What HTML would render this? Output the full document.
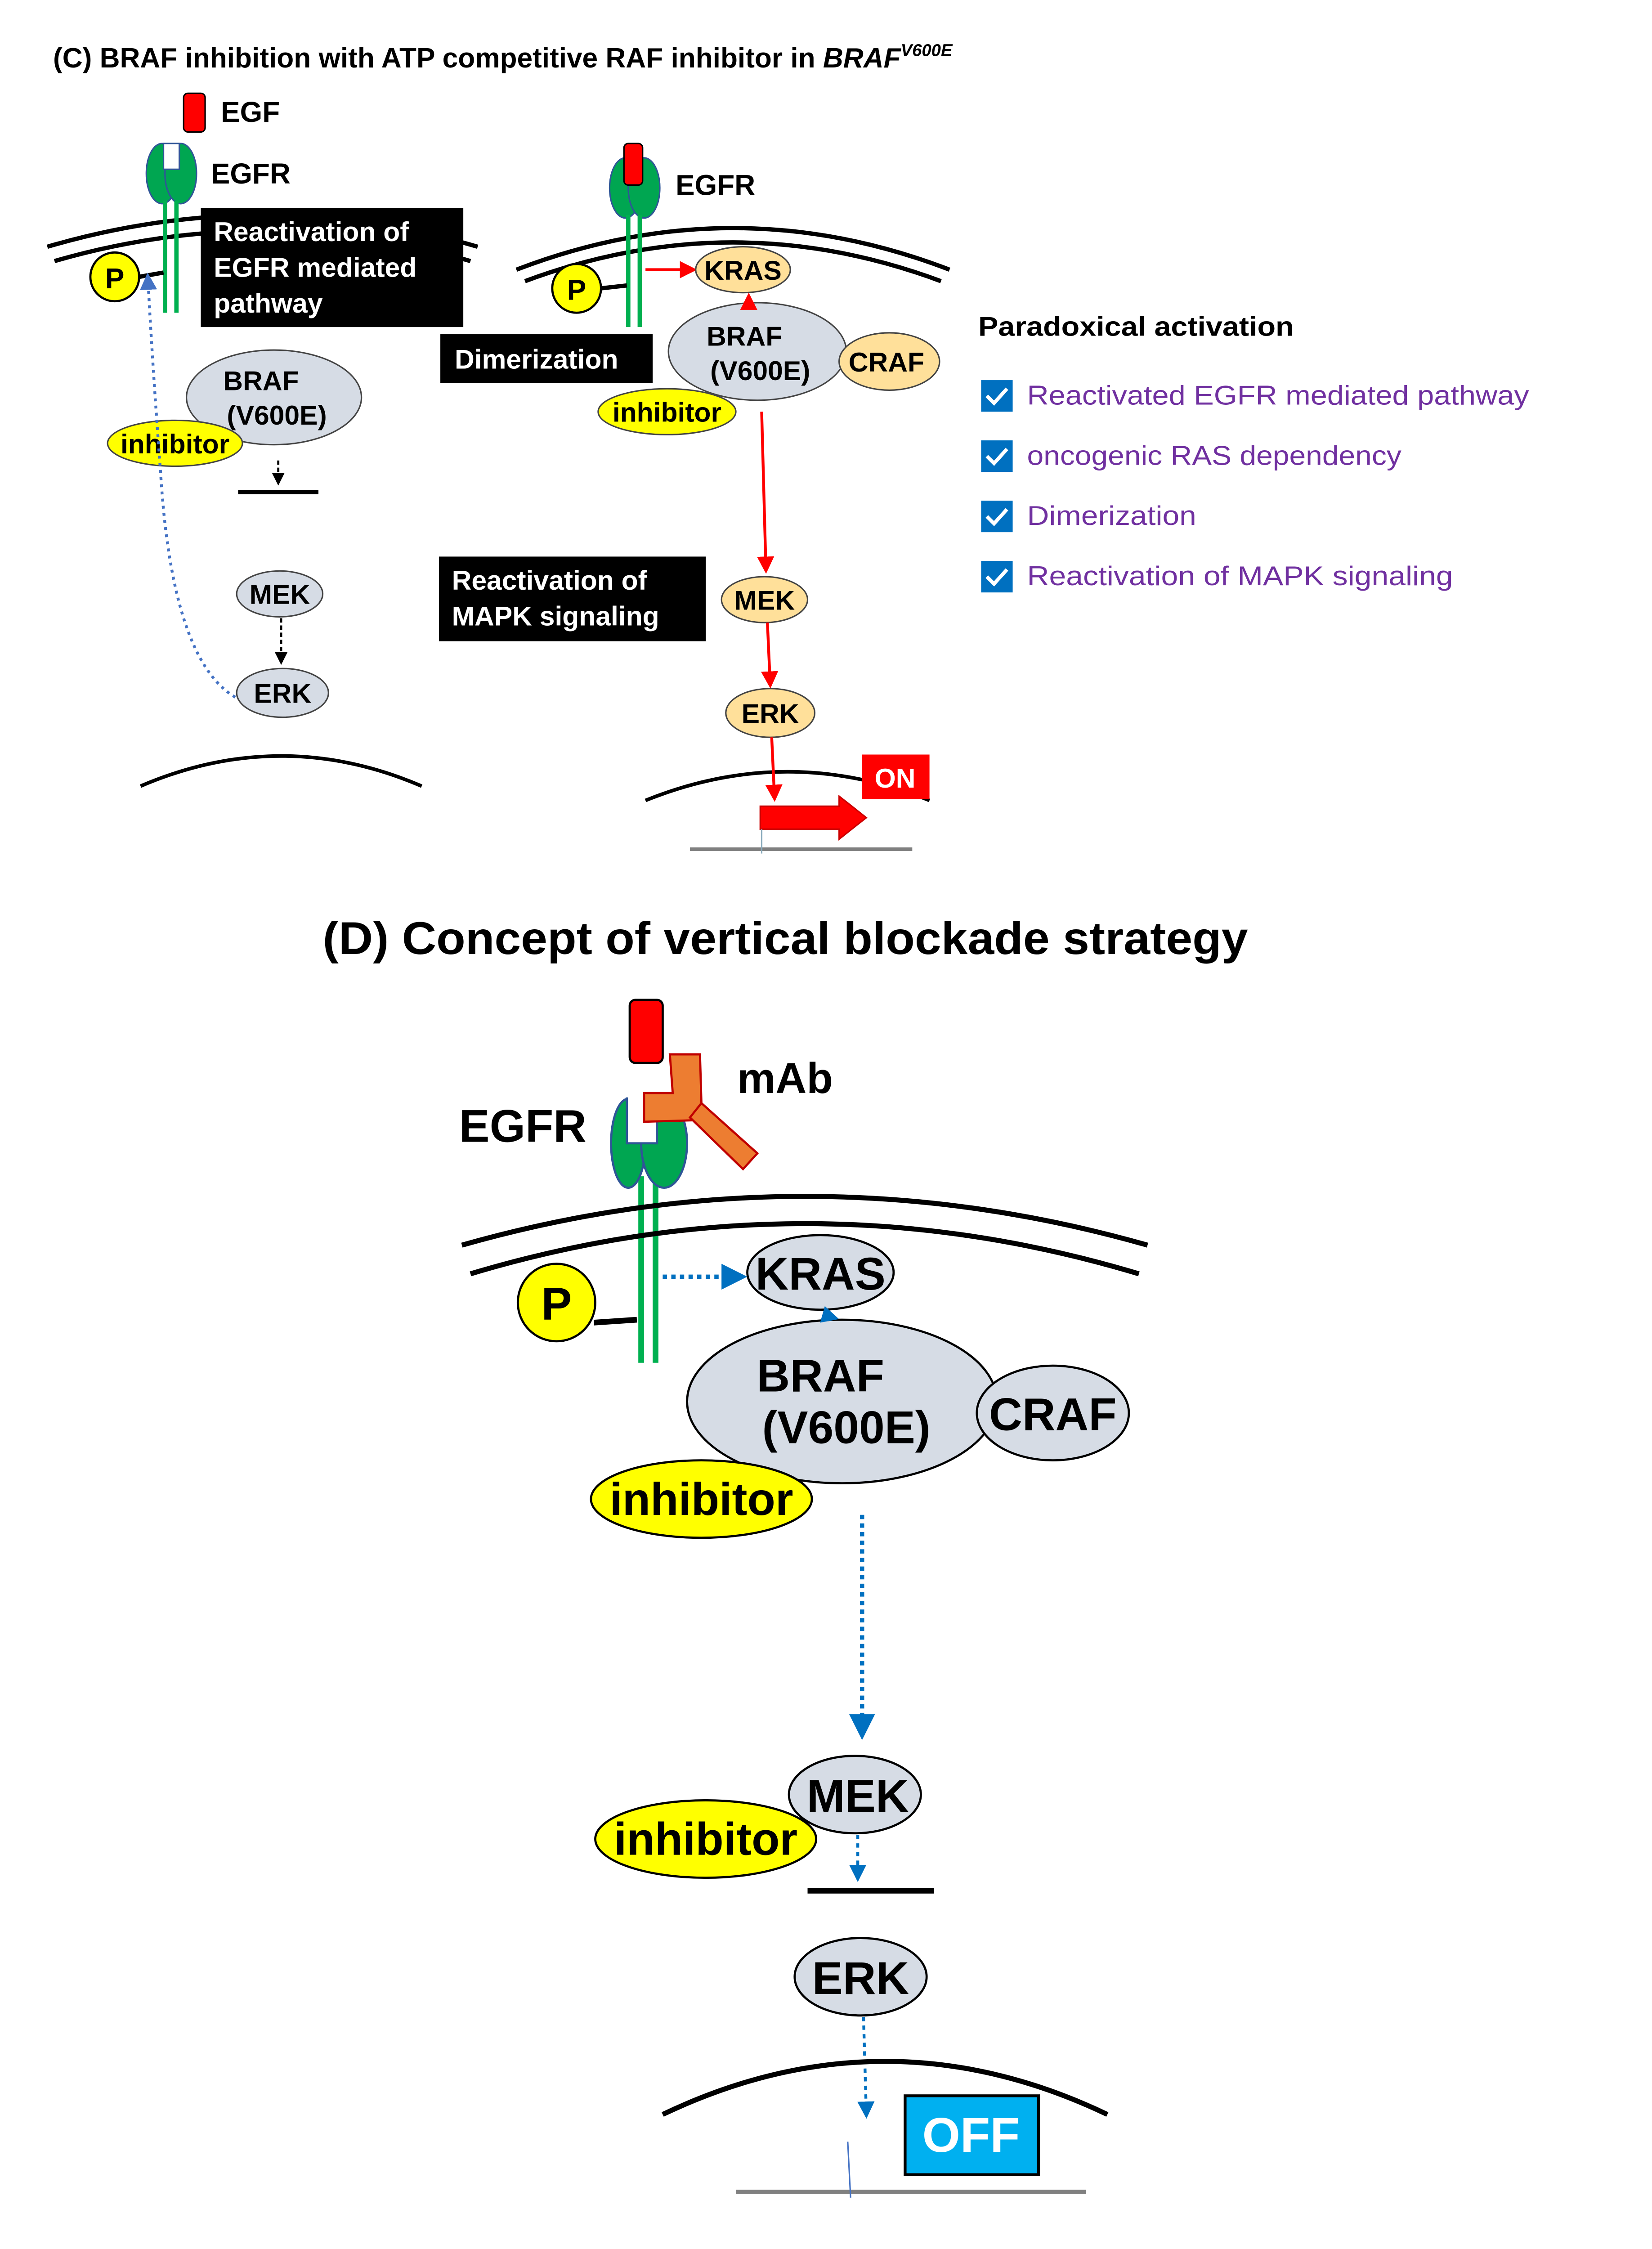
<!DOCTYPE html>
<html><head><meta charset="utf-8"><style>html,body{margin:0;padding:0;background:#fff;overflow:hidden}svg{display:block}</style></head><body>
<svg width="3673" height="5251" viewBox="0 0 1151.7 1646.5" preserveAspectRatio="xMinYMin meet" xmlns="http://www.w3.org/2000/svg" font-family="Liberation Sans, sans-serif" font-weight="bold">
<defs>
<marker id="ar" markerWidth="6" markerHeight="6" refX="5" refY="3" orient="auto" markerUnits="strokeWidth"><path d="M0,0 L6,3 L0,6z" fill="#f00"/></marker>
<marker id="ab" markerWidth="6" markerHeight="6" refX="5" refY="3" orient="auto" markerUnits="strokeWidth"><path d="M0,0 L6,3 L0,6z" fill="#0070c0"/></marker>
<marker id="ab2" markerWidth="6" markerHeight="6" refX="5" refY="3" orient="auto" markerUnits="strokeWidth"><path d="M0,0 L6,3 L0,6z" fill="#4472c4"/></marker>
<marker id="ak" markerWidth="6" markerHeight="6" refX="5" refY="3" orient="auto" markerUnits="strokeWidth"><path d="M0,0 L6,3 L0,6z" fill="#000"/></marker>
</defs>
<text x="37" y="47" font-size="19.5">(C) BRAF inhibition with ATP competitive RAF inhibitor in <tspan font-style="italic">BRAF</tspan><tspan font-style="italic" font-size="12" dy="-8">V600E</tspan></text>

<rect x="128" y="65" width="15" height="27" rx="3" fill="#f00" stroke="#000" stroke-width="1"/>
<text x="154" y="85" font-size="20">EGF</text>
<ellipse cx="113" cy="121" rx="11" ry="21" fill="#00a651" stroke="#2f5597"/>
<ellipse cx="126" cy="121" rx="11" ry="21" fill="#00a651" stroke="#2f5597"/>
<rect x="114" y="100" width="11" height="18" fill="#fff" stroke="#2f5597"/>
<text x="147" y="128" font-size="20">EGFR</text>
<path d="M33,172 Q183,128 333,172" fill="none" stroke="#000" stroke-width="3"/>
<path d="M38,182 Q183,140 328,182" fill="none" stroke="#000" stroke-width="3"/>
<line x1="115" y1="140" x2="115" y2="218" stroke="#00b050" stroke-width="3"/>
<line x1="123" y1="140" x2="123" y2="218" stroke="#00b050" stroke-width="3"/>
<line x1="97" y1="193" x2="114" y2="190" stroke="#000" stroke-width="3"/>
<circle cx="80" cy="193" r="17" fill="#ff0" stroke="#000" stroke-width="1.5"/>
<text x="80" y="201" font-size="20" text-anchor="middle">P</text>
<rect x="140" y="145" width="183" height="83" fill="#000"/>
<text x="149" y="168" font-size="19" fill="#fff">Reactivation of</text>
<text x="149" y="193" font-size="19" fill="#fff">EGFR mediated</text>
<text x="149" y="218" font-size="19" fill="#fff">pathway</text>
<ellipse cx="191" cy="277" rx="61" ry="33" fill="#d6dce5" stroke="#444"/>
<text x="182" y="272" font-size="19" text-anchor="middle">BRAF</text>
<text x="193" y="296" font-size="19" text-anchor="middle">(V600E)</text>
<ellipse cx="122" cy="309" rx="47" ry="16" fill="#ff0" stroke="#444"/>
<text x="122" y="316" font-size="19" text-anchor="middle">inhibitor</text>
<line x1="194" y1="321" x2="194" y2="337" stroke="#000" stroke-width="1.5" stroke-dasharray="3,2" marker-end="url(#ak)"/>
<line x1="166" y1="343" x2="222" y2="343" stroke="#000" stroke-width="3"/>
<ellipse cx="195" cy="414" rx="30" ry="16" fill="#d6dce5" stroke="#444"/>
<text x="195" y="421" font-size="19" text-anchor="middle">MEK</text>
<line x1="196" y1="431" x2="196" y2="462" stroke="#000" stroke-width="1.5" stroke-dasharray="3,2" marker-end="url(#ak)"/>
<ellipse cx="197" cy="483" rx="32" ry="17" fill="#d6dce5" stroke="#444"/>
<text x="197" y="490" font-size="19" text-anchor="middle">ERK</text>
<path d="M164,486 Q120,460 112,330 Q106,250 103,192" fill="none" stroke="#4472c4" stroke-width="2" stroke-dasharray="2,3" marker-end="url(#ab2)"/>
<path d="M98,548 Q196,506 294,548" fill="none" stroke="#000" stroke-width="2.5"/>

<path d="M360,188 Q511,130 662,188" fill="none" stroke="#000" stroke-width="3"/>
<path d="M366,196 Q511,142 656,196" fill="none" stroke="#000" stroke-width="3"/>
<ellipse cx="436" cy="131" rx="11" ry="21" fill="#00a651" stroke="#2f5597"/>
<ellipse cx="449" cy="131" rx="11" ry="21" fill="#00a651" stroke="#2f5597"/>
<rect x="435" y="100" width="13" height="29" rx="3" fill="#f00" stroke="#000"/>
<text x="471" y="136" font-size="20">EGFR</text>
<line x1="438" y1="150" x2="438" y2="228" stroke="#00b050" stroke-width="3"/>
<line x1="446" y1="150" x2="446" y2="228" stroke="#00b050" stroke-width="3"/>
<line x1="419" y1="201" x2="437" y2="199" stroke="#000" stroke-width="3"/>
<circle cx="402" cy="201" r="17" fill="#ff0" stroke="#000" stroke-width="1.5"/>
<text x="402" y="209" font-size="20" text-anchor="middle">P</text>
<line x1="450" y1="188" x2="484" y2="188" stroke="#f00" stroke-width="2" marker-end="url(#ar)"/>
<ellipse cx="518" cy="188" rx="33" ry="16" fill="#ffe09a" stroke="#444"/>
<text x="518" y="195" font-size="19" text-anchor="middle">KRAS</text>
<ellipse cx="528" cy="245" rx="62" ry="34" fill="#d6dce5" stroke="#444"/>
<line x1="522" y1="212" x2="522" y2="206" stroke="#f00" stroke-width="2" marker-end="url(#ar)"/>
<text x="519" y="241" font-size="19" text-anchor="middle">BRAF</text>
<text x="530" y="265" font-size="19" text-anchor="middle">(V600E)</text>
<ellipse cx="620" cy="252" rx="35" ry="20" fill="#ffe09a" stroke="#444"/>
<text x="618" y="259" font-size="19" text-anchor="middle">CRAF</text>
<ellipse cx="465" cy="287" rx="48" ry="16" fill="#ff0" stroke="#444"/>
<text x="465" y="294" font-size="19" text-anchor="middle">inhibitor</text>
<rect x="307" y="233" width="148" height="34" fill="#000"/>
<text x="317" y="257" font-size="19" fill="#fff">Dimerization</text>
<line x1="531" y1="287" x2="534" y2="398" stroke="#f00" stroke-width="2" marker-end="url(#ar)"/>
<ellipse cx="533" cy="418" rx="30" ry="16" fill="#ffe09a" stroke="#444"/>
<text x="533" y="425" font-size="19" text-anchor="middle">MEK</text>
<line x1="535" y1="434" x2="537" y2="478" stroke="#f00" stroke-width="2" marker-end="url(#ar)"/>
<ellipse cx="537" cy="497" rx="31" ry="17" fill="#ffe09a" stroke="#444"/>
<text x="537" y="504" font-size="19" text-anchor="middle">ERK</text>
<rect x="306" y="388" width="186" height="59" fill="#000"/>
<text x="315" y="411" font-size="19" fill="#fff">Reactivation of</text>
<text x="315" y="436" font-size="19" fill="#fff">MAPK signaling</text>
<path d="M450,558 Q549,518 648,558" fill="none" stroke="#000" stroke-width="2.5"/>
<line x1="538" y1="514" x2="540" y2="557" stroke="#f00" stroke-width="2" marker-end="url(#ar)"/>
<rect x="601" y="526" width="47" height="31" fill="#f00"/>
<text x="624" y="549" font-size="19" fill="#fff" text-anchor="middle">ON</text>
<path d="M530,562 L585,562 L585,555 L604,570 L585,585 L585,578 L530,578z" fill="#f00" stroke="#c00" stroke-width="1"/>
<line x1="481" y1="592" x2="636" y2="592" stroke="#808080" stroke-width="2.5"/>
<line x1="531" y1="578" x2="531" y2="595" stroke="#8ab" stroke-width="1"/>

<text x="682" y="234" font-size="19" textLength="220" lengthAdjust="spacingAndGlyphs">Paradoxical activation</text>
<g font-weight="normal" font-size="19" fill="#7030a0">
<rect x="684" y="265" width="22" height="22" fill="#0070c0"/><path d="M688,276 l5,5 l9,-10" stroke="#fff" stroke-width="2.5" fill="none"/>
<text x="716" y="282" textLength="350" lengthAdjust="spacingAndGlyphs">Reactivated EGFR mediated pathway</text>
<rect x="684" y="307" width="22" height="22" fill="#0070c0"/><path d="M688,318 l5,5 l9,-10" stroke="#fff" stroke-width="2.5" fill="none"/>
<text x="716" y="324" textLength="261" lengthAdjust="spacingAndGlyphs">oncogenic RAS dependency</text>
<rect x="684" y="349" width="22" height="22" fill="#0070c0"/><path d="M688,360 l5,5 l9,-10" stroke="#fff" stroke-width="2.5" fill="none"/>
<text x="716" y="366" textLength="118" lengthAdjust="spacingAndGlyphs">Dimerization</text>
<rect x="684" y="391" width="22" height="22" fill="#0070c0"/><path d="M688,402 l5,5 l9,-10" stroke="#fff" stroke-width="2.5" fill="none"/>
<text x="716" y="408" textLength="297" lengthAdjust="spacingAndGlyphs">Reactivation of MAPK signaling</text>
</g>

<text x="225" y="665" font-size="32" textLength="645" lengthAdjust="spacingAndGlyphs">(D) Concept of vertical blockade strategy</text>
<rect x="439" y="697" width="23" height="44" rx="4" fill="#f00" stroke="#000" stroke-width="1.5"/>
<text x="514" y="762" font-size="30">mAb</text>
<text x="320" y="796" font-size="32">EGFR</text>
<line x1="447" y1="820" x2="447" y2="950" stroke="#00b050" stroke-width="4"/>
<line x1="457" y1="820" x2="457" y2="950" stroke="#00b050" stroke-width="4"/>
<ellipse cx="438" cy="797" rx="12" ry="31" fill="#00a651" stroke="#2f5597" stroke-width="1.5"/>
<ellipse cx="463" cy="797" rx="16" ry="31" fill="#00a651" stroke="#2f5597" stroke-width="1.5"/>
<rect x="437" y="764" width="21" height="33" fill="#fff" stroke="#2f5597" stroke-width="1.5"/>
<rect x="436" y="762" width="23" height="3" fill="#fff"/>
<polygon points="467,735 488,735 489,769 482,781 449,782 449,762 469,762" fill="#ed7d31" stroke="#c00000" stroke-width="1.5"/>
<polygon points="489,769 481,779 518,815 528,804" fill="#ed7d31" stroke="#c00000" stroke-width="1.5"/>
<path d="M322,868 Q561,800 800,868" fill="none" stroke="#000" stroke-width="3.5"/>
<path d="M328,888 Q561,818 794,888" fill="none" stroke="#000" stroke-width="3.5"/>
<line x1="414" y1="922" x2="444" y2="920" stroke="#000" stroke-width="4"/>
<circle cx="388" cy="908" r="27" fill="#ff0" stroke="#000" stroke-width="1.5"/>
<text x="388" y="920" font-size="32" text-anchor="middle">P</text>
<line x1="462" y1="890" x2="518" y2="890" stroke="#0070c0" stroke-width="3" stroke-dasharray="3,3" marker-end="url(#ab)"/>
<ellipse cx="572" cy="887" rx="51" ry="26" fill="#d6dce5" stroke="#000" stroke-width="1.5"/>
<text x="572" y="899" font-size="32" text-anchor="middle">KRAS</text>
<ellipse cx="587" cy="977" rx="108" ry="57" fill="#d6dce5" stroke="#000" stroke-width="1.5"/>
<line x1="576" y1="917" x2="583" y2="919" stroke="#0070c0" stroke-width="2" marker-end="url(#ab)"/>
<text x="572" y="970" font-size="32" text-anchor="middle">BRAF</text>
<text x="590" y="1006" font-size="32" text-anchor="middle">(V600E)</text>
<ellipse cx="734" cy="985" rx="53" ry="33" fill="#d6dce5" stroke="#000" stroke-width="1.5"/>
<text x="734" y="997" font-size="32" text-anchor="middle">CRAF</text>
<ellipse cx="489" cy="1045" rx="77" ry="27" fill="#ff0" stroke="#000" stroke-width="1.5"/>
<text x="489" y="1056" font-size="32" text-anchor="middle">inhibitor</text>
<line x1="601" y1="1056" x2="601" y2="1210" stroke="#0070c0" stroke-width="3" stroke-dasharray="3,3" marker-end="url(#ab)"/>
<ellipse cx="596" cy="1251" rx="46" ry="27" fill="#d6dce5" stroke="#000" stroke-width="1.5"/>
<text x="598" y="1263" font-size="32" text-anchor="middle">MEK</text>
<ellipse cx="492" cy="1282" rx="77" ry="27" fill="#ff0" stroke="#000" stroke-width="1.5"/>
<text x="492" y="1293" font-size="32" text-anchor="middle">inhibitor</text>
<line x1="598" y1="1279" x2="598" y2="1310" stroke="#0070c0" stroke-width="2" stroke-dasharray="3,3" marker-end="url(#ab)"/>
<line x1="563" y1="1318" x2="651" y2="1318" stroke="#000" stroke-width="4"/>
<ellipse cx="600" cy="1378" rx="46" ry="27" fill="#d6dce5" stroke="#000" stroke-width="1.5"/>
<text x="600" y="1390" font-size="32" text-anchor="middle">ERK</text>
<line x1="602" y1="1406" x2="604" y2="1475" stroke="#0070c0" stroke-width="2" stroke-dasharray="3,3" marker-end="url(#ab)"/>
<path d="M462,1474 Q617,1400 772,1474" fill="none" stroke="#000" stroke-width="3.5"/>
<rect x="631" y="1461" width="93" height="55" fill="#00b0f0" stroke="#000" stroke-width="2"/>
<text x="677" y="1500" font-size="34" fill="#fff" text-anchor="middle">OFF</text>
<line x1="513" y1="1528" x2="757" y2="1528" stroke="#808080" stroke-width="3"/>
<line x1="591" y1="1493" x2="593" y2="1532" stroke="#4472c4" stroke-width="1"/>
</svg>
</body></html>
